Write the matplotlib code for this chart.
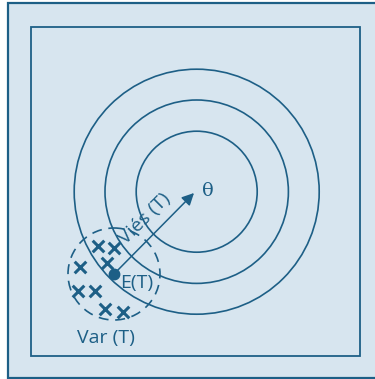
import matplotlib.pyplot as plt
from matplotlib.patches import Circle, Rectangle, FancyArrowPatch

# Diagram coordinates in pixel units of the 375x379 image (y goes down)
target = (196.7, 191.7)
ring_radii = [60.5, 91.7, 122.5]
mean_point = (114, 274)
spread_radius = 46
cross_x = [98.3, 114, 106.7, 80, 78.3, 95, 105, 123.3]
cross_y = [245.7, 248.3, 263.3, 266.7, 290.7, 290.7, 309.3, 311.7]
labels = {'theta': 'θ', 'bias': 'Viés (T)', 'mean': 'E(T)', 'var': 'Var (T)'}

ink = '#1d5f86'
bg = '#d7e5ef'

fig = plt.figure(figsize=(3.75, 3.79), dpi=100)
ax = fig.add_axes([0, 0, 1, 1])
ax.set_xlim(0, 375)
ax.set_ylim(379, 0)
ax.axis('off')

# outer panel and inner frame
ax.add_patch(Rectangle((8, 3), 380, 375, facecolor=bg, edgecolor=ink, lw=1.6))
ax.add_patch(Rectangle((30.7, 26.7), 329.3, 329, facecolor='none', edgecolor=ink, lw=1.3))

for r in ring_radii:
    ax.add_patch(Circle(target, r, facecolor='none', edgecolor=ink, lw=1.2))

ax.add_patch(Circle(mean_point, spread_radius, facecolor='none', edgecolor=ink,
                    lw=1.2, linestyle=(0, (6, 4))))

ax.scatter(cross_x, cross_y, marker='x', s=70, color=ink, linewidths=2.2, zorder=3)

ax.add_patch(FancyArrowPatch(mean_point, (194, 193), arrowstyle='-|>',
                             mutation_scale=18, color=ink, lw=1.1, zorder=3,
                             shrinkA=0, shrinkB=0))
ax.plot(*mean_point, 'o', color=ink, ms=7.5, zorder=4)

ax.text(208, 191, labels['theta'], color=ink, fontsize=14, family='DejaVu Serif',
        ha='center', va='center')
ax.text(145, 219, labels['bias'], color=ink, fontsize=14, family='Open Sans',
        rotation=45, ha='center', va='center', rotation_mode='anchor')
ax.text(137, 283, labels['mean'], color=ink, fontsize=14, family='Open Sans',
        ha='center', va='center')
ax.text(106, 338, labels['var'], color=ink, fontsize=14, family='Open Sans',
        ha='center', va='center')

fig.savefig('out.png', dpi=100, facecolor='white')
